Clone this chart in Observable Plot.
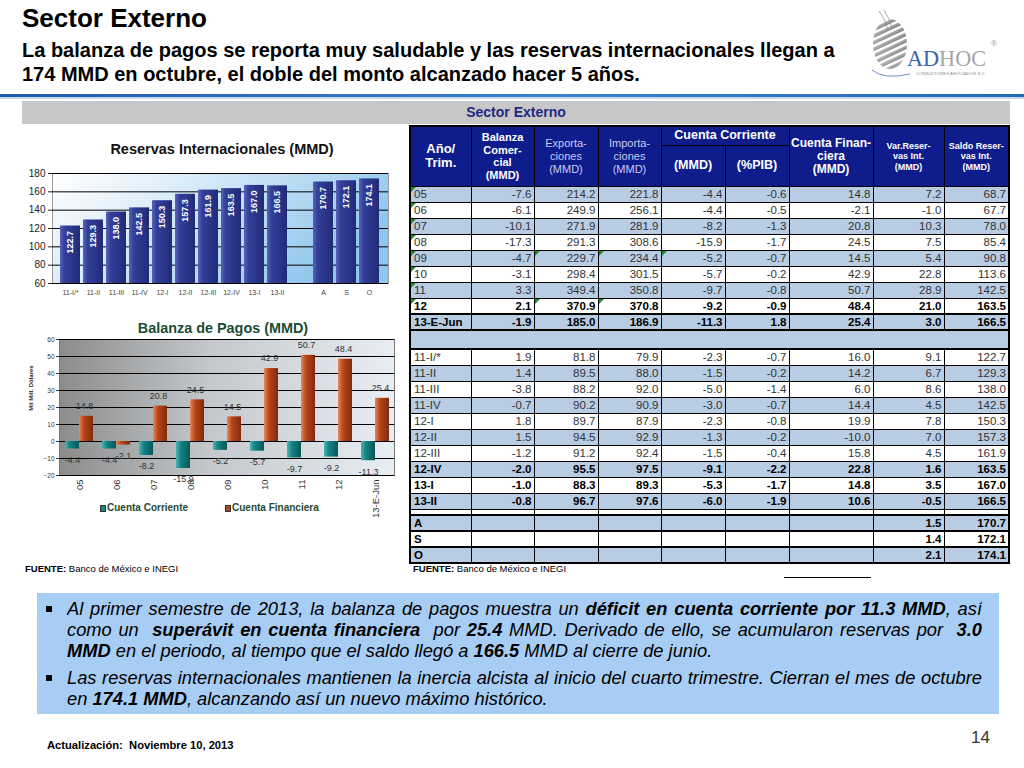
<!DOCTYPE html>
<html lang="es"><head><meta charset="utf-8">
<script src="https://cdn.jsdelivr.net/npm/d3@7"></script>
<script src="https://cdn.jsdelivr.net/npm/@observablehq/plot@0.6"></script>
<style>
*{box-sizing:border-box;}
body{margin:0;width:1024px;height:768px;position:relative;overflow:hidden;background:#fff;font-family:"Liberation Sans",Arial,Helvetica,sans-serif;color:#000;}
.abs{position:absolute;}
#title{left:22px;top:3px;font-size:26px;font-weight:bold;line-height:30px;}
#subtitle{left:22px;top:38px;font-size:20px;font-weight:bold;line-height:24px;}
#rule{left:0;top:94px;width:1024px;height:3px;background:linear-gradient(to right,#1d5ca8,#3f80cc 55%,#2767b8);}
#rule2{left:0;top:97px;width:1024px;height:2px;background:#c4d9f0;}
#band{left:22px;top:101px;width:988px;height:23px;background:#c7c7c7;line-height:23px;text-align:center;font-size:14px;font-weight:bold;color:#1c2a80;}
.ctitle{text-align:center;font-weight:bold;white-space:nowrap;}
#tabla{position:absolute;left:409px;top:125px;width:600px;border-collapse:collapse;table-layout:fixed;font-size:11.5px;color:#333;border:2px solid #000;}
#tabla th{background:#0f1c8c;color:#fff;font-weight:bold;border:1px solid #000;padding:0;line-height:13px;vertical-align:middle;text-align:center;white-space:nowrap;}
#tabla th.lt{font-weight:normal;color:#c9cbf0;font-size:11px;line-height:13px;}
#tabla td{border:1px solid #000;height:16px;padding:0 2px 0 3px;line-height:14px;text-align:right;white-space:nowrap;position:relative;}
#tabla td.lab{text-align:left;}
#tabla tr.b td{background:#b8cce4;}
#tabla tr.bold td{font-weight:bold;color:#000;}
#tabla tr.thick td{border-top:2px solid #000;}
.tri{position:absolute;left:0;top:0;width:0;height:0;border-top:5px solid #1e8c2a;border-right:5px solid transparent;}
.fuente{font-size:9.5px;white-space:nowrap;}
#box{left:37px;top:593px;width:962px;height:121px;background:#a7cdf5;}
.ln{position:absolute;left:67px;width:915px;font-size:18.3px;line-height:21px;font-style:italic;white-space:nowrap;}
.ln.j{text-align:justify;text-align-last:justify;white-space:normal;height:21px;overflow:hidden;}
.bul{position:absolute;left:46px;width:6px;height:6px;background:#000;}
.leg{font-size:10px;font-weight:bold;color:#1f4a34;white-space:nowrap;}
.sq{display:inline-block;width:6px;height:7px;border:1px solid #333;margin-right:1px;vertical-align:-1px;}
</style></head><body>

<div id="title" class="abs">Sector Externo</div>
<div id="subtitle" class="abs">La balanza de pagos se reporta muy saludable y las reservas internacionales llegan a<br>174 MMD en octubre, el doble del monto alcanzado hacer 5 años.</div>

<svg id="logo" class="abs" style="left:866px;top:10px" width="150" height="72" viewBox="0 0 150 72"></svg>

<div id="rule" class="abs"></div>
<div id="rule2" class="abs"></div>
<div id="band" class="abs">Sector Externo</div>

<div class="abs ctitle" style="left:22px;top:140px;width:400px;font-size:14.5px;line-height:18px;color:#111;">Reservas Internacionales (MMD)</div>
<div id="chartRes" class="abs" style="left:20px;top:160px;"></div>

<div class="abs ctitle" style="left:22px;top:319px;width:402px;font-size:14.4px;line-height:18px;color:#1b4d33;">Balanza de Pagos (MMD)</div>
<div id="chartBal" class="abs" style="left:20px;top:330px;"></div>
<div class="abs" style="left:31px;top:388px;transform:translate(-50%,-50%) rotate(-90deg);font-size:6px;font-weight:bold;white-space:nowrap;color:#222;">Mil Mill. Dólares</div>
<div class="abs leg" style="left:100px;top:502px;"><span class="sq" style="background:#138585"></span>Cuenta Corriente</div>
<div class="abs leg" style="left:225px;top:502px;"><span class="sq" style="background:#b5461c"></span>Cuenta Financiera</div>

<div class="abs fuente" style="left:25px;top:563px;"><b>FUENTE:</b> Banco de México e INEGI</div>

<table id="tabla"></table>
<div class="abs fuente" style="left:413px;top:563px;"><b>FUENTE:</b> Banco de México e INEGI</div>
<div class="abs" style="left:784px;top:577px;width:87px;height:1px;background:#000;"></div>

<div id="box" class="abs"></div>
<div class="bul" style="top:606px"></div>
<div class="ln j" style="top:598px">Al primer semestre de 2013, la balanza de pagos muestra un <b>déficit en cuenta corriente por 11.3 MMD</b>, así</div>
<div class="ln j" style="top:619px">como un &nbsp;<b>superávit en cuenta financiera</b> &nbsp;por <b>25.4</b> MMD. Derivado de ello, se acumularon reservas por &nbsp;<b>3.0</b></div>
<div class="ln" style="top:640px"><b>MMD</b> en el periodo, al tiempo que el saldo llegó a <b>166.5</b> MMD al cierre de junio.</div>
<div class="bul" style="top:675px"></div>
<div class="ln j" style="top:667px">Las reservas internacionales mantienen la inercia alcista al inicio del cuarto trimestre. Cierran el mes de octubre</div>
<div class="ln" style="top:688px">en <b>174.1 MMD</b>, alcanzando así un nuevo máximo histórico.</div>

<div class="abs" style="left:47px;top:739px;font-size:11.2px;font-weight:bold;white-space:nowrap;">Actualización:&nbsp; Noviembre 10, 2013</div>
<div class="abs" style="left:971px;top:728px;font-size:17px;color:#333;">14</div>

<script>
// ---------- Datos: Reservas Internacionales (MMD) ----------
const reservasPeriodos = ["11-I/*","11-II","11-III","11-IV","12-I","12-II","12-III","12-IV","13-I","13-II","A","S","O"];
const reservasSaldo = [122.7,129.3,138.0,142.5,150.3,157.3,161.9,163.5,167.0,166.5,170.7,172.1,174.1];
const reservasTicks = [60,80,100,120,140,160,180];

// ---------- Datos: Balanza de Pagos (MMD) ----------
const balanzaPeriodos = ["05","06","07","08","09","10","11","12","13-E-Jun"];
const cuentaCorriente = [-4.4,-4.4,-8.2,-15.9,-5.2,-5.7,-9.7,-9.2,-11.3];
const cuentaFinanciera = [14.8,-2.1,20.8,24.5,14.5,42.9,50.7,48.4,25.4];
const balanzaTicks = [-20,-10,0,10,20,30,40,50,60];

// ---------- Datos: Tabla Sector Externo ----------
const tablaPeriodos = ["05","06","07","08","09","10","11","12","13-E-Jun",
  "11-I/*","11-II","11-III","11-IV","12-I","12-II","12-III","12-IV","13-I","13-II","A","S","O"];
const tablaBalanzaComercial = [-7.6,-6.1,-10.1,-17.3,-4.7,-3.1,3.3,2.1,-1.9, 1.9,1.4,-3.8,-0.7,1.8,1.5,-1.2,-2.0,-1.0,-0.8, null,null,null];
const tablaExportaciones = [214.2,249.9,271.9,291.3,229.7,298.4,349.4,370.9,185.0, 81.8,89.5,88.2,90.2,89.7,94.5,91.2,95.5,88.3,96.7, null,null,null];
const tablaImportaciones = [221.8,256.1,281.9,308.6,234.4,301.5,350.8,370.8,186.9, 79.9,88.0,92.0,90.9,87.9,92.9,92.4,97.5,89.3,97.6, null,null,null];
const tablaCuentaCorrienteMMD = [-4.4,-4.4,-8.2,-15.9,-5.2,-5.7,-9.7,-9.2,-11.3, -2.3,-1.5,-5.0,-3.0,-2.3,-1.3,-1.5,-9.1,-5.3,-6.0, null,null,null];
const tablaCuentaCorrientePIB = [-0.6,-0.5,-1.3,-1.7,-0.7,-0.2,-0.8,-0.9,1.8, -0.7,-0.2,-1.4,-0.7,-0.8,-0.2,-0.4,-2.2,-1.7,-1.9, null,null,null];
const tablaCuentaFinanciera = [14.8,-2.1,20.8,24.5,14.5,42.9,50.7,48.4,25.4, 16.0,14.2,6.0,14.4,19.9,-10.0,15.8,22.8,14.8,10.6, null,null,null];
const tablaVarReservas = [7.2,-1.0,10.3,7.5,5.4,22.8,28.9,21.0,3.0, 9.1,6.7,8.6,4.5,7.8,7.0,4.5,1.6,3.5,-0.5, 1.5,1.4,2.1];
const tablaSaldoReservas = [68.7,67.7,78.0,85.4,90.8,113.6,142.5,163.5,166.5, 122.7,129.3,138.0,142.5,150.3,157.3,161.9,163.5,167.0,166.5, 170.7,172.1,174.1];
const tablaNegritas = ["12","13-E-Jun","12-IV","13-I","13-II","A","S","O"];
const tablaComentarios = [[0,0],[1,0],[2,0],[3,0],[4,0],[5,0],[6,0],[7,0],[4,2],[4,3],[4,4],[7,2],[7,3]];

// ---------- Tabla ----------
(function buildTable(){
  const cols = [tablaBalanzaComercial,tablaExportaciones,tablaImportaciones,tablaCuentaCorrienteMMD,
    tablaCuentaCorrientePIB,tablaCuentaFinanciera,tablaVarReservas,tablaSaldoReservas];
  const colWidths = [61,63,64,63,64,64,84,71,65];
  const fmt = v => v == null ? "" : v.toFixed(1);
  const com = new Set(tablaComentarios.map(([r,c]) => r + "_" + c));
  let h = "<colgroup>" + colWidths.map(w => `<col style="width:${w}px">`).join("") + "</colgroup>";
  h += `<tr style="height:19px">
   <th rowspan="2" style="font-size:13px;line-height:14px">Año/<br>Trim.</th>
   <th rowspan="2" style="font-size:11px;line-height:12.5px">Balanza<br>Comer-<br>cial<br>(MMD)</th>
   <th rowspan="2" class="lt">Exporta-<br>ciones<br>(MMD)</th>
   <th rowspan="2" class="lt">Importa-<br>ciones<br>(MMD)</th>
   <th colspan="2" style="font-size:12.5px">Cuenta Corriente</th>
   <th rowspan="2" style="font-size:12px">Cuenta Finan-<br>ciera<br>(MMD)</th>
   <th rowspan="2" style="font-size:9px;line-height:10.5px">Var.Reser-<br>vas Int.<br>(MMD)</th>
   <th rowspan="2" style="font-size:9px;line-height:10.5px">Saldo Reser-<br>vas Int.<br>(MMD)</th></tr>
   <tr style="height:41px"><th style="font-size:12.5px">(MMD)</th><th style="font-size:12.5px">(%PIB)</th></tr>`;
  tablaPeriodos.forEach((p, i) => {
    const blue = i < 9 ? i % 2 === 0 : i < 19 ? (i - 9) % 2 === 1 : (i - 19) % 2 === 0;
    const cls = [blue ? "b" : "", tablaNegritas.includes(p) ? "bold" : "", [8,9,19,20,21].includes(i) ? "thick" : ""].join(" ");
    const tri = c => com.has(i + "_" + c) ? '<span class="tri"></span>' : "";
    h += `<tr class="${cls}"><td class="lab">${tri(0)}${p}</td>` +
      cols.map((col, c) => `<td>${tri(c + 1)}${fmt(col[i])}</td>`).join("") + "</tr>";
    if (i === 8) h += `<tr><td colspan="9" style="height:19px;background:#b8cce4;border-top:2px solid #000"></td></tr>`;
    if (i === 18) h += `<tr>` + colWidths.map((w, c) => `<td style="height:6px;${c===1?'border-bottom:2px solid #000':''}"></td>`).join("") + `</tr>`;
  });
  document.getElementById("tabla").innerHTML = h;
})();

// ---------- Logo ----------
(function logo(){
  const s = document.getElementById("logo");
  let stripes = "";
  for (let k = 0; k < 10; k++) stripes += `<rect x="-10" y="${6 + k * 6}" width="70" height="3.6"/>`;
  s.innerHTML = `<defs><clipPath id="clipSph"><ellipse cx="24" cy="34" rx="17" ry="25"/></clipPath>
   <linearGradient id="gSph" x1="0" y1="0" x2="1" y2="1"><stop offset="0" stop-color="#d0d0d0"/><stop offset="1" stop-color="#707070"/></linearGradient></defs>
   <g clip-path="url(#clipSph)" fill="url(#gSph)"><g transform="rotate(-25 24 34)">${stripes}</g></g>
   <path d="M13 1 Q20 10 22 20" stroke="#8a8a8a" stroke-width="0.7" fill="none"/>
   <path d="M18 0 Q24 9 26 18" stroke="#8a8a8a" stroke-width="0.7" fill="none"/>
   <path d="M6 60 Q18 70 44 64" stroke="#6f94c8" stroke-width="1" fill="none"/>
   <text x="41" y="56" font-family="Liberation Serif, DejaVu Serif, serif" font-size="24" textLength="79" lengthAdjust="spacingAndGlyphs"><tspan fill="#3b62ae">AD</tspan><tspan fill="#a5a5a5">HOC</tspan></text>
   <text x="125" y="36" font-size="8" fill="#9a9a9a" font-family="Liberation Sans">®</text>
   <text x="50" y="65" font-size="4" fill="#8c8c8c" font-family="Liberation Sans" textLength="70" lengthAdjust="spacingAndGlyphs">CONSULTORES ASOCIADOS S.C.</text>`;
})();

function addDefs(svg, html) { svg.insertAdjacentHTML("afterbegin", `<defs>${html}</defs>`); }
const fontFamily = '"Liberation Sans", Arial, Helvetica, sans-serif';

// ---------- Gráfica: Reservas Internacionales ----------
const resData = reservasPeriodos.map((p, i) => ({periodo: p, saldo: reservasSaldo[i]}));
const resDomain = [...reservasPeriodos.slice(0, 10), "\u00a0", ...reservasPeriodos.slice(10)];
const svgRes = Plot.plot({
  width: 380, height: 145, marginLeft: 32, marginRight: 12, marginTop: 13, marginBottom: 22,
  style: {background: "transparent", fontFamily, overflow: "visible", color: "#222"},
  x: {domain: resDomain, paddingInner: 0.125, paddingOuter: 0.07, label: null},
  y: {domain: [60, 180], label: null},
  marks: [
    Plot.frame({fill: "url(#gRes)", stroke: "#9a9a9a"}),
    Plot.gridY(reservasTicks, {stroke: "#000", strokeOpacity: 1}),
    Plot.barY(resData, {x: "periodo", y1: () => 60, y2: "saldo", fill: "url(#gBarRes)"}),
    Plot.text(resData, {x: "periodo", y: "saldo", text: d => d.saldo.toFixed(1), rotate: -90, textAnchor: "end",
      dy: 5, fill: "#fff", fontWeight: "bold", fontSize: 9}),
    Plot.ruleY([60], {stroke: "#000"}),
    Plot.axisY({ticks: reservasTicks, tickSize: 4, tickPadding: 3, fontSize: 10, color: "#222"}),
    Plot.axisX({tickSize: 0, tickPadding: 7, fontSize: 7, color: "#444"})
  ]
});
addDefs(svgRes, `
 <linearGradient id="gRes" x1="0" y1="0" x2="1" y2="0.4"><stop offset="0" stop-color="#ffffff"/><stop offset="0.3" stop-color="#e2f0fb"/><stop offset="1" stop-color="#8fc6ec"/></linearGradient>
 <linearGradient id="gBarRes" x1="0" y1="0" x2="1" y2="0"><stop offset="0" stop-color="#5a63b8"/><stop offset="0.22" stop-color="#33409a"/><stop offset="1" stop-color="#222a78"/></linearGradient>`);
document.getElementById("chartRes").append(svgRes);

// ---------- Gráfica: Balanza de Pagos ----------
const balData = balanzaPeriodos.map((p, i) => ({periodo: p, cc: cuentaCorriente[i], cf: cuentaFinanciera[i]}));
const bW = 380, bML = 39, bMR = 6, pIn = 0.25, pOut = 0.11;
const step = (bW - bML - bMR) / (balanzaPeriodos.length - pIn + 2 * pOut);
const half = step * (1 - pIn) / 2;
const svgBal = Plot.plot({
  width: bW, height: 200, marginLeft: bML, marginRight: bMR, marginTop: 9, marginBottom: 55,
  style: {background: "transparent", fontFamily, overflow: "visible", color: "#333"},
  x: {domain: balanzaPeriodos, paddingInner: pIn, paddingOuter: pOut, label: null},
  y: {domain: [-20, 60], label: null},
  marks: [
    Plot.frame({fill: "url(#gBal)", stroke: "#777"}),
    Plot.gridY(balanzaTicks, {stroke: "#000", strokeOpacity: 1}),
    Plot.barY(balData, {x: "periodo", y: "cc", insetRight: half, fill: "url(#gCC)"}),
    Plot.barY(balData, {x: "periodo", y: "cf", insetLeft: half, fill: "url(#gCF)"}),
    Plot.text(balData, {x: "periodo", y: "cc", text: d => d.cc.toFixed(1), dx: -half / 2, dy: 11, fontSize: 9, fill: "#333"}),
    Plot.text(balData.filter(d => d.cf >= 0), {x: "periodo", y: "cf", text: d => d.cf.toFixed(1), dx: half / 2 - 2, dy: -10, fontSize: 9, fill: "#333"}),
    Plot.text(balData.filter(d => d.cf < 0), {x: "periodo", y: "cf", text: d => d.cf.toFixed(1), dx: half / 2, dy: 11, fontSize: 9, fill: "#333"}),
    Plot.axisY({ticks: balanzaTicks, tickSize: 3, tickPadding: 2, fontSize: 6.5, color: "#333"}),
    Plot.axisX({tickRotate: -90, tickSize: 0, tickPadding: 4, fontSize: 9.5, color: "#333"})
  ]
});
addDefs(svgBal, `
 <linearGradient id="gBal" x1="0" y1="0" x2="1" y2="0"><stop offset="0" stop-color="#8c8c8c"/><stop offset="0.45" stop-color="#c4c8cc"/><stop offset="1" stop-color="#e8eef4"/></linearGradient>
 <linearGradient id="gCC" x1="0" y1="0" x2="1" y2="0"><stop offset="0" stop-color="#4fb3b3"/><stop offset="0.35" stop-color="#128383"/><stop offset="1" stop-color="#0a5556"/></linearGradient>
 <linearGradient id="gCF" x1="0" y1="0" x2="1" y2="0"><stop offset="0" stop-color="#e58a5c"/><stop offset="0.35" stop-color="#b9461a"/><stop offset="1" stop-color="#7e2a0b"/></linearGradient>`);
document.getElementById("chartBal").append(svgBal);
</script>
</body></html>
